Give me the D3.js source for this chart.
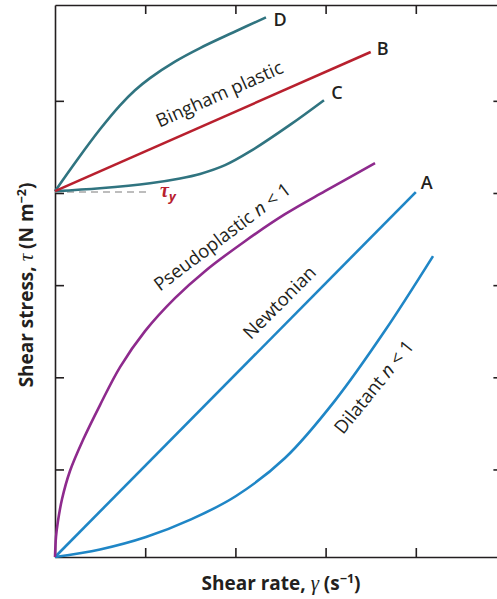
<!DOCTYPE html>
<html><head><meta charset="utf-8">
<script src="https://cdn.jsdelivr.net/npm/d3@7"></script>
<style>html,body{margin:0;padding:0;background:#fff;} svg{display:block;}</style>
</head><body>
<svg id="chart" width="497" height="599"></svg>
<script>
// Flow curves: shear stress vs shear rate for several fluid models (arbitrary units)
const xTicks = [1, 2, 3, 4];
const yTicks = [0.95, 1.95, 2.95, 3.95, 4.95];
const yieldStress = 3.97;

const newtonian = [[0, 0], [4.0, 3.96]];
const bingham = [[0, 3.97], [3.50, 5.48]];
const curveC = [[0, 3.97], [0.499, 4.002], [1.053, 4.056], [1.386, 4.108], [1.608, 4.157], [1.885, 4.252], [2.162, 4.401], [2.605, 4.689], [2.982, 4.957]];
const curveD = [[0, 3.97], [0.255, 4.322], [0.499, 4.641], [0.721, 4.901], [0.887, 5.065], [1.053, 5.197], [1.330, 5.376], [1.608, 5.523], [1.974, 5.692], [2.339, 5.856]];
const pseudoplastic = [[0, 0], [0.011, 0.217], [0.033, 0.390], [0.078, 0.629], [0.166, 0.933], [0.310, 1.269], [0.499, 1.649], [0.721, 2.061], [0.998, 2.451], [1.330, 2.809], [1.663, 3.102], [2.106, 3.427], [2.550, 3.720], [2.993, 3.970], [3.548, 4.273]];
const dilatant = [[0, 0], [0.499, 0.082], [1.009, 0.217], [1.508, 0.408], [2.007, 0.662], [2.550, 1.074], [3.104, 1.697], [3.659, 2.457], [4.191, 3.265]];

const teal = "#307480", red = "#b8202e", purple = "#8e2a8d", blue = "#1f86c6", ink = "#231f20";
const sans = "'Open Sans', 'Noto Sans', sans-serif";
const serif = "'Liberation Serif', 'DejaVu Serif', serif";

const svg = d3.select("#chart");
const x = d3.scaleLinear().domain([0, 4.96]).range([55, 502.4]);
const y = d3.scaleLinear().domain([0, 5.99]).range([557, 5]);

// frame with inward ticks on all four sides
function styleAxis(g) {
  g.selectAll("path,line").attr("stroke", ink).attr("stroke-width", 1.6);
  g.selectAll("text").remove();
}
svg.append("g").attr("transform", `translate(0,${y(0)})`)
  .call(d3.axisBottom(x).tickValues(xTicks).tickSize(-9).tickSizeOuter(0).tickFormat("")).call(styleAxis);
svg.append("g").attr("transform", `translate(0,${y(5.99)})`)
  .call(d3.axisTop(x).tickValues(xTicks).tickSize(-9).tickSizeOuter(0).tickFormat("")).call(styleAxis);
svg.append("g").attr("transform", `translate(${x(0)},0)`)
  .call(d3.axisLeft(y).tickValues(yTicks).tickSize(-9).tickSizeOuter(0).tickFormat("")).call(styleAxis);
svg.append("g").attr("transform", `translate(${x(4.96)},0)`)
  .call(d3.axisRight(y).tickValues(yTicks).tickSize(-9).tickSizeOuter(0).tickFormat("")).call(styleAxis);

// yield stress marker
svg.append("line")
  .attr("x1", x(0)).attr("x2", x(1.02))
  .attr("y1", y(yieldStress) + 0.8).attr("y2", y(yieldStress) + 0.8)
  .attr("stroke", "#a8a8a8").attr("stroke-width", 1.5).attr("stroke-dasharray", "7,5");

const line = d3.line().x(d => x(d[0])).y(d => y(d[1])).curve(d3.curveCatmullRom.alpha(0.5));
const series = [
  { data: dilatant, color: blue },
  { data: newtonian, color: blue },
  { data: pseudoplastic, color: purple },
  { data: curveC, color: teal },
  { data: curveD, color: teal },
  { data: bingham, color: red }
];
svg.selectAll("path.curve").data(series).join("path").attr("class", "curve")
  .attr("d", d => line(d.data)).attr("fill", "none")
  .attr("stroke", d => d.color).attr("stroke-width", 2.6).attr("stroke-linecap", "butt");

// end letters
const ends = [
  { t: "A", p: newtonian[newtonian.length - 1], dx: 11, dy: -9 },
  { t: "B", p: bingham[bingham.length - 1], dx: 12, dy: -3 },
  { t: "C", p: curveC[curveC.length - 1], dx: 13, dy: -7 },
  { t: "D", p: curveD[curveD.length - 1], dx: 14, dy: 3 }
];
svg.selectAll("text.end").data(ends).join("text").attr("class", "end")
  .attr("x", d => x(d.p[0]) + d.dx).attr("y", d => y(d.p[1]) + d.dy + 6)
  .attr("text-anchor", "middle").attr("font-family", sans).attr("font-weight", 600)
  .attr("font-size", 18).attr("fill", ink).text(d => d.t);

// curve names along the lines
function curveLabel(px, py, angle, parts, size) {
  const t = svg.append("text")
    .attr("transform", `translate(${px},${py}) rotate(${angle})`)
    .attr("text-anchor", "middle").attr("font-family", sans)
    .attr("font-size", size).attr("fill", ink);
  parts.forEach(p => t.append("tspan").attr("font-style", p.i ? "italic" : null).text(p.s));
}
curveLabel(222, 100, -24, [{ s: "Bingham plastic" }], 18.5);
curveLabel(226, 242, -37, [{ s: "Pseudoplastic " }, { s: "n", i: true }, { s: " < 1" }], 18.5);
curveLabel(284, 307, -45, [{ s: "Newtonian" }], 18.5);
curveLabel(379, 391, -51, [{ s: "Dilatant " }, { s: "n", i: true }, { s: " < 1" }], 18.5);

// yield stress symbol
const ty = svg.append("text").attr("x", 160).attr("y", 197).attr("fill", red)
  .attr("font-weight", 700).attr("font-style", "italic");
ty.append("tspan").attr("font-family", serif).attr("font-size", 20).text("τ");
ty.append("tspan").attr("font-family", sans).attr("font-size", 13).attr("dy", 4).text("y");

// axis titles
const xt = svg.append("text").attr("x", 281).attr("y", 590).attr("text-anchor", "middle")
  .attr("font-family", sans).attr("font-weight", 700).attr("font-size", 19).attr("fill", ink);
xt.append("tspan").text("Shear rate, ");
xt.append("tspan").attr("font-family", serif).attr("font-style", "italic").attr("font-weight", 400).attr("font-size", 21).text("γ");
xt.append("tspan").text(" (s");
xt.append("tspan").attr("font-size", 12.5).attr("dy", -7).text("−1");
xt.append("tspan").attr("dy", 7).text(")");

const yt = svg.append("text").attr("transform", "translate(33,285) rotate(-90)").attr("text-anchor", "middle")
  .attr("font-family", sans).attr("font-weight", 700).attr("font-size", 19).attr("fill", ink);
yt.append("tspan").text("Shear stress, ");
yt.append("tspan").attr("font-family", serif).attr("font-style", "italic").attr("font-weight", 400).attr("font-size", 21).text("τ");
yt.append("tspan").text(" (N m");
yt.append("tspan").attr("font-size", 12.5).attr("dy", -7).text("−2");
yt.append("tspan").attr("dy", 7).text(")");
</script>
</body></html>
